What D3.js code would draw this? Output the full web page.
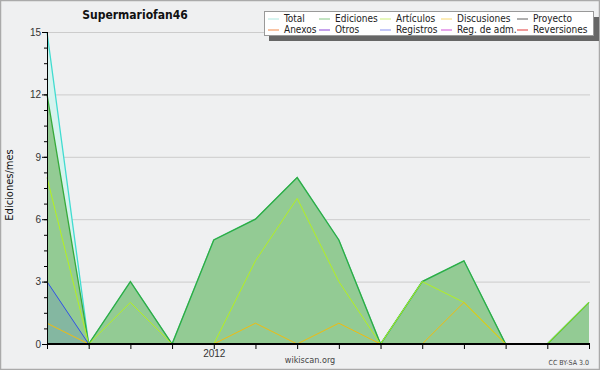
<!DOCTYPE html>
<html>
<head>
<meta charset="utf-8">
<script src="https://cdn.jsdelivr.net/npm/d3@7"></script>
<style>
  body { margin: 0; background: #fff; }
  svg { display: block; font-family: "DejaVu Sans Condensed", "DejaVu Sans", sans-serif; font-stretch: condensed; }
</style>
</head>
<body>
<svg id="chart" width="600" height="370"></svg>
<script>
// monthly values, Sep 2011 .. Oct 2012
const months = ['2011-09', '2011-10', '2011-11', '2011-12', '2012-01', '2012-02', '2012-03',
  '2012-04', '2012-05', '2012-06', '2012-07', '2012-08', '2012-09', '2012-10'];
const total = [15, 0, 3, 0, 5, 6, 8, 5, 0, 3, 4, 0, 0, 2];
const edits = [12, 0, 3, 0, 5, 6, 8, 5, 0, 3, 4, 0, 0, 2];
const articles = [8, 0, 2, 0, 0, 4, 7, 3, 0, 3, 2, 0, 0, 2];
const talks = [1, 0, 0, 0, 0, 1, 0, 1, 0, 0, 2, 0, 0, 0];
const logs = [3, 0, 0, 0, 0, 0, 0, 0, 0, 0, 0, 0, 0, 0];
const yTicks = [0, 3, 6, 9, 12, 15];

const legendItems = [
  ['Total', '#aee8e0'], ['Ediciones', '#86c886'], ['Artículos', '#cdf07a'], ['Discusiones', '#f8d870'], ['Proyecto', '#606060'],
  ['Anexos', '#f08848'], ['Otros', '#8a44d8'], ['Registros', '#8890f0'], ['Reg. de adm.', '#d050d8'], ['Reversiones', '#e03838']
];

const svg = d3.select('#chart');
const W = 600, H = 370;
const m = { left: 47, right: 589, top: 32, bottom: 344 };

// background and frame
svg.append('rect').attr('x', 0.5).attr('y', 0.5).attr('width', W - 1).attr('height', H - 1)
  .attr('fill', '#eff0f1').attr('stroke', '#aaaaaa').attr('stroke-width', 1.5);

const x = d3.scalePoint().domain(months).range([m.left, m.right]);
const y = d3.scaleLinear().domain([0, 15]).range([m.bottom, m.top]);

// grid
svg.append('g').selectAll('line').data(yTicks.filter((d) => d > 0)).join('line')
  .attr('x1', m.left).attr('x2', m.right + 1)
  .attr('y1', (d) => y(d) + 0.5).attr('y2', (d) => y(d) + 0.5)
  .attr('stroke', '#cccccc');

const area = (vals) => d3.area()
  .x((d, i) => x(months[i]))
  .y0(y(0))
  .y1((d) => y(d))(vals);
const line = (vals) => d3.line()
  .x((d, i) => x(months[i]))
  .y((d) => y(d))(vals);

// filled series
svg.append('path').attr('d', area(total)).attr('fill', '#d6f3ee');
svg.append('path').attr('d', area(edits)).attr('fill', '#93cb94');
svg.append('path').attr('d', area(logs)).attr('fill', '#4060e0').attr('fill-opacity', 0.18);

// lines
svg.append('path').attr('d', line(total)).attr('fill', 'none').attr('stroke', '#40dcd0').attr('stroke-width', 1.3);
svg.append('path').attr('d', line(edits)).attr('fill', 'none').attr('stroke', '#36aa3a').attr('stroke-width', 1.3);
svg.append('path').attr('d', line(articles)).attr('fill', 'none').attr('stroke', '#b4f020').attr('stroke-width', 1);
svg.append('path').attr('d', line(talks)).attr('fill', 'none').attr('stroke', '#f0bc10').attr('stroke-width', 1);
svg.append('path').attr('d', line(logs)).attr('fill', 'none').attr('stroke', '#3050e8').attr('stroke-width', 1);

// y axis
const yAxis = svg.append('g').attr('transform', `translate(${m.left},0)`)
  .call(d3.axisLeft(y).tickValues(d3.range(0, 15.01, 0.75)).tickSize(3).tickFormat(''));
yAxis.select('.domain').remove();
yAxis.selectAll('line').attr('stroke', '#000');
const yMajor = svg.append('g').attr('transform', `translate(${m.left},0)`)
  .call(d3.axisLeft(y).tickValues(yTicks).tickSize(5).tickPadding(1));
yMajor.select('.domain').remove();
yMajor.selectAll('line').attr('stroke', '#000');
yMajor.selectAll('text').attr('font-size', 10).attr('fill', '#333').attr('font-family', null);
svg.append('line').attr('x1', m.left + 0.5).attr('x2', m.left + 0.5).attr('y1', m.top).attr('y2', m.bottom)
  .attr('stroke', '#000');

// x axis
const xAxis = svg.append('g').attr('transform', `translate(0,${m.bottom})`)
  .call(d3.axisBottom(x).tickSize(5).tickPadding(1)
    .tickFormat((d) => (d === '2012-01' ? '2012' : '')));
xAxis.select('.domain').remove();
xAxis.selectAll('line').attr('stroke', '#000');
xAxis.selectAll('text').attr('font-size', 10).attr('fill', '#333').attr('font-family', null);
svg.append('line').attr('x1', m.left).attr('x2', m.right + 1).attr('y1', m.bottom).attr('y2', m.bottom)
  .attr('stroke', '#000').attr('stroke-width', 2);

// titles
svg.append('text').attr('x', 135).attr('y', 19).attr('text-anchor', 'middle')
  .attr('font-size', 12).attr('font-weight', 'bold').attr('fill', '#111').text('Supermariofan46');
svg.append('text').attr('transform', 'translate(13,185) rotate(-90)').attr('text-anchor', 'middle')
  .attr('font-size', 11).attr('fill', '#111').text('Ediciones/mes');
svg.append('text').attr('x', 310).attr('y', 363).attr('text-anchor', 'middle')
  .attr('font-size', 9).attr('fill', '#444').text('wikiscan.org');
svg.append('text').attr('x', 589).attr('y', 365).attr('text-anchor', 'end')
  .attr('font-size', 7).attr('fill', '#444').text('CC BY-SA 3.0');

// legend
const lg = svg.append('g');
lg.append('rect').attr('x', 269).attr('y', 17).attr('width', 330).attr('height', 24).attr('fill', '#666');
lg.append('rect').attr('x', 264.5).attr('y', 11.5).attr('width', 329).attr('height', 24)
  .attr('fill', '#fff').attr('stroke', '#999');
const colX = [268, 319, 380, 441, 517];
legendItems.forEach(([name, clr], i) => {
  const cx = colX[i % 5];
  const cy = i < 5 ? 18.5 : 29.5;
  lg.append('line').attr('x1', cx).attr('x2', cx + 11).attr('y1', cy + 0.5).attr('y2', cy + 0.5)
    .attr('stroke', clr).attr('stroke-width', 1);
  lg.append('text').attr('x', cx + 16).attr('y', cy + 3.5).attr('font-size', 10).attr('fill', '#222').text(name);
});
</script>
</body>
</html>
